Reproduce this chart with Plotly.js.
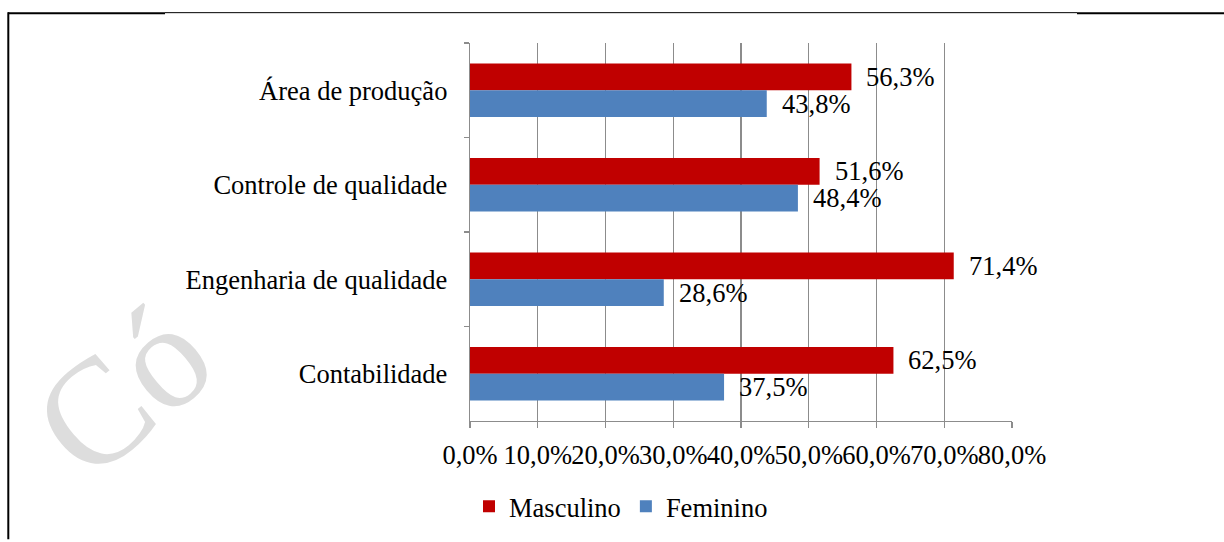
<!DOCTYPE html>
<html>
<head>
<meta charset="utf-8">
<script src="https://cdn.plot.ly/plotly-3.0.1.min.js"></script>
<style>html,body{margin:0;padding:0;background:#fff;}#chart{width:1224px;height:542px;}</style>
</head>
<body>
<div id="chart"></div>
<script>
// ---- data ----
const categories = ["Área de produção", "Controle de qualidade", "Engenharia de qualidade", "Contabilidade"];
const masculino = [56.3, 51.6, 71.4, 62.5];
const feminino = [43.8, 48.4, 28.6, 37.5];
const seriesNames = ["Masculino", "Feminino"];
const labelsMasc = ["56,3%", "51,6%", "71,4%", "62,5%"];
const labelsFem = ["43,8%", "48,4%", "28,6%", "37,5%"];

// ---- geometry helpers (pixels -> paper) ----
const L = 470, R = 1012, T = 43, B = 423;
const W = R - L, H = B - T;
const px = p => (p - L) / W;
const py = p => (B - p) / H;

const FONT = "Liberation Serif, Times New Roman, serif";
const FS = 26.5;
const RED = "#C00000", BLUE = "#4F81BD";

const traces = [
  {type: "bar", orientation: "h", name: seriesNames[0], y: categories, x: masculino,
   marker: {color: RED}, hoverinfo: "skip"},
  {type: "bar", orientation: "h", name: seriesNames[1], y: categories, x: feminino,
   marker: {color: BLUE}, hoverinfo: "skip"}
];

const annotations = [];
// faint watermark
annotations.push({xref: "paper", yref: "paper", x: px(122), y: py(392), text: "Có",
  showarrow: false, textangle: -40, font: {family: FONT, size: 150, color: "#dddddd"},
  xanchor: "center", yanchor: "middle"});

categories.forEach((c, i) => {
  annotations.push({x: masculino[i], y: c, xref: "x", yref: "y", text: labelsMasc[i], showarrow: false,
    xanchor: "left", yanchor: "middle", xshift: 13, yshift: 13.5, font: {family: FONT, size: FS, color: "#000"}});
  annotations.push({x: feminino[i], y: c, xref: "x", yref: "y", text: labelsFem[i], showarrow: false,
    xanchor: "left", yanchor: "middle", xshift: 13, yshift: -13.5, font: {family: FONT, size: FS, color: "#000"}});
});

const shapes = [
  // frame lines
  {type: "line", xref: "paper", yref: "paper", x0: px(8), x1: px(165), y0: py(13), y1: py(13), line: {color: "#000", width: 2}},
  {type: "line", xref: "paper", yref: "paper", x0: px(165), x1: px(1077), y0: py(12.5), y1: py(12.5), line: {color: "#000", width: 1}},
  {type: "line", xref: "paper", yref: "paper", x0: px(1077), x1: px(1224), y0: py(13), y1: py(13), line: {color: "#000", width: 2}},
  {type: "line", xref: "paper", yref: "paper", x0: px(8.3), x1: px(8.3), y0: py(12), y1: py(542), line: {color: "#000", width: 2}}
];

const layout = {
  width: 1224, height: 542,
  margin: {l: L, r: 1224 - R, t: T, b: 542 - B, pad: 0},
  paper_bgcolor: "#fff", plot_bgcolor: "#fff",
  separators: ",.",
  font: {family: FONT, size: FS, color: "#000"},
  barmode: "group", bargap: 0.432, bargroupgap: 0,
  showlegend: true,
  legend: {orientation: "h", x: px(621), xanchor: "center", y: py(509), yanchor: "middle",
    font: {family: FONT, size: FS, color: "#000"}, traceorder: "normal", itemclick: false},
  xaxis: {range: [0, 80], dtick: 10, tick0: 0, tickformat: ".1f", ticksuffix: "%",
    showgrid: true, gridcolor: "#8c8c8c", gridwidth: 1.3,
    showline: true, linecolor: "#8c8c8c", linewidth: 1.3,
    ticks: "outside", ticklen: 6, tickcolor: "#8c8c8c", tickwidth: 1.3, ticklabelstandoff: 4,
    tickangle: 0, zeroline: false, fixedrange: true,
    tickfont: {family: FONT, size: FS, color: "#000"}},
  yaxis: {type: "category", autorange: "reversed", categoryorder: "array", categoryarray: categories,
    showgrid: false, showline: true, linecolor: "#8c8c8c", linewidth: 1.3,
    ticks: "outside", ticklen: 5, tickcolor: "#8c8c8c", tickwidth: 1.3, tickson: "boundaries",
    ticklabelstandoff: 16, zeroline: false, fixedrange: true,
    tickfont: {family: FONT, size: FS, color: "#000"}},
  annotations: annotations,
  shapes: shapes
};

Plotly.newPlot("chart", traces, layout, {staticPlot: true, displayModeBar: false});
</script>
</body>
</html>
